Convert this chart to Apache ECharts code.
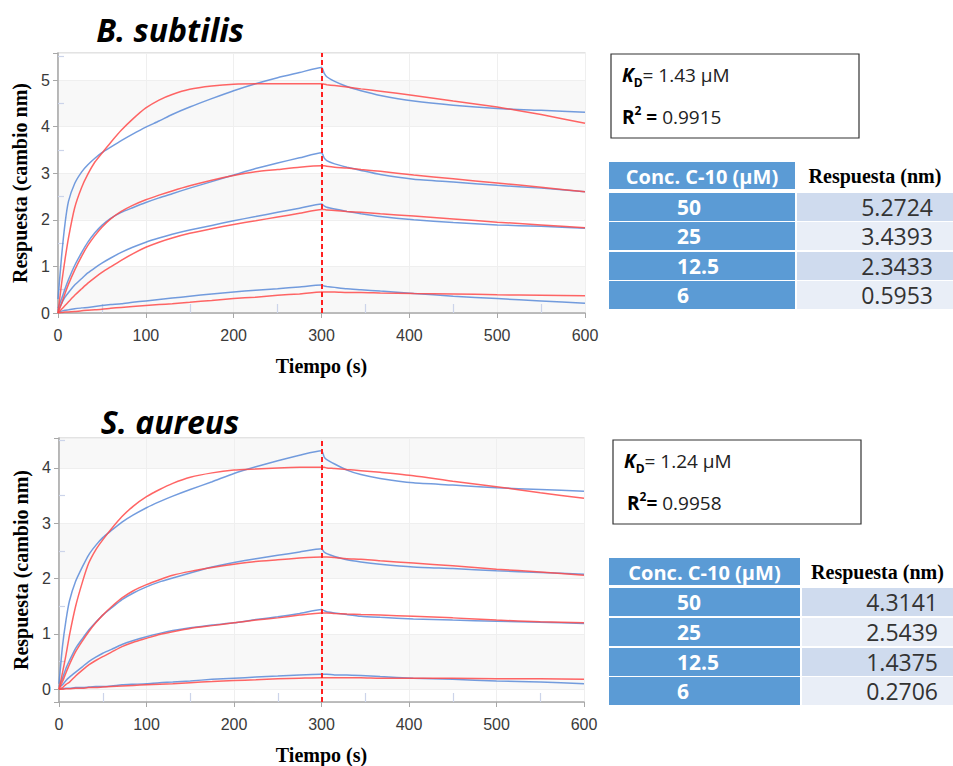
<!DOCTYPE html>
<html>
<head>
<meta charset="utf-8">
<script src="https://cdn.jsdelivr.net/npm/echarts@6/dist/echarts.min.js"></script>
<style>
html,body{margin:0;padding:0;background:#fff;}
#main{width:953px;height:766px;}
</style>
</head>
<body>
<div id="main"></div>
<script>
// time points (s)
const T = [0,4,8,12,19,27,34,42,50,60,72,85,100,115,130,150,175,200,225,250,275,300,303,306,315,329,345,367,405,450,500,550,600];

// B. subtilis – measured (blue)
const bsBlue50 = [0.3,1.2,1.92,2.4,2.78,3.03,3.18,3.32,3.44,3.56,3.7,3.84,3.99,4.12,4.26,4.42,4.6,4.77,4.92,5.05,5.16,5.27,5.15,5.07,4.97,4.86,4.77,4.67,4.55,4.46,4.39,4.35,4.31];
const bsBlue25 = [0.1,0.3,0.52,0.72,1.02,1.3,1.52,1.72,1.88,2.03,2.16,2.26,2.37,2.47,2.56,2.68,2.82,2.96,3.1,3.22,3.33,3.44,3.33,3.27,3.2,3.13,3.06,2.97,2.87,2.81,2.74,2.68,2.6];
const bsBlue12 = [0.05,0.2,0.34,0.44,0.6,0.74,0.86,0.97,1.07,1.18,1.3,1.41,1.52,1.61,1.69,1.78,1.88,1.98,2.07,2.16,2.25,2.34,2.3,2.27,2.23,2.18,2.13,2.07,2.0,1.94,1.89,1.86,1.82];
const bsBlue6  = [0.02,0.04,0.06,0.07,0.09,0.11,0.12,0.14,0.16,0.18,0.2,0.23,0.26,0.29,0.32,0.36,0.41,0.45,0.49,0.52,0.56,0.6,0.58,0.57,0.55,0.52,0.5,0.47,0.42,0.36,0.31,0.26,0.21];
// B. subtilis – fit (red)
const bsRed50 = [0,0.62,1.15,1.62,2.26,2.7,2.98,3.24,3.43,3.66,3.92,4.16,4.4,4.57,4.69,4.8,4.87,4.91,4.92,4.92,4.92,4.92,4.91,4.9,4.88,4.85,4.81,4.76,4.67,4.55,4.42,4.26,4.07];
const bsRed25 = [0,0.2,0.42,0.62,0.92,1.22,1.45,1.66,1.84,2.02,2.18,2.31,2.43,2.53,2.62,2.73,2.85,2.95,3.03,3.08,3.13,3.16,3.16,3.15,3.13,3.11,3.08,3.04,2.96,2.88,2.79,2.7,2.6];
const bsRed12 = [0,0.08,0.16,0.24,0.38,0.52,0.64,0.76,0.87,0.99,1.13,1.27,1.41,1.52,1.61,1.71,1.81,1.9,1.98,2.06,2.14,2.22,2.22,2.21,2.2,2.18,2.16,2.13,2.08,2.02,1.95,1.89,1.83];
const bsRed6  = [0,0.01,0.02,0.02,0.03,0.05,0.06,0.07,0.08,0.1,0.12,0.14,0.16,0.18,0.2,0.23,0.27,0.31,0.34,0.38,0.41,0.45,0.45,0.45,0.45,0.44,0.44,0.43,0.42,0.41,0.39,0.38,0.37];

// S. aureus – measured (blue)
const saBlue50 = [0.1,0.78,1.25,1.6,1.95,2.22,2.43,2.6,2.74,2.87,3.02,3.15,3.28,3.39,3.49,3.61,3.75,3.9,4.02,4.13,4.23,4.31,4.2,4.15,4.07,3.96,3.88,3.81,3.73,3.69,3.64,3.61,3.58];
const saBlue25 = [0.05,0.2,0.38,0.52,0.74,0.92,1.07,1.21,1.34,1.47,1.62,1.74,1.85,1.94,2.01,2.1,2.21,2.29,2.36,2.42,2.48,2.54,2.48,2.45,2.4,2.34,2.3,2.26,2.21,2.18,2.14,2.11,2.08];
const saBlue12 = [0.03,0.08,0.16,0.22,0.31,0.41,0.5,0.58,0.65,0.72,0.81,0.88,0.95,1.01,1.06,1.11,1.16,1.2,1.26,1.31,1.37,1.44,1.42,1.4,1.38,1.35,1.32,1.3,1.27,1.25,1.23,1.21,1.19];
const saBlue6  = [0,0.01,0.02,0.02,0.03,0.03,0.04,0.05,0.05,0.06,0.08,0.09,0.1,0.12,0.13,0.15,0.18,0.2,0.22,0.24,0.26,0.27,0.27,0.27,0.26,0.26,0.25,0.23,0.2,0.18,0.15,0.13,0.1];
// S. aureus – fit (red)
const saRed50 = [0,0.3,0.62,0.98,1.5,1.95,2.28,2.52,2.7,2.9,3.12,3.31,3.48,3.61,3.72,3.83,3.91,3.96,3.98,4.0,4.01,4.01,4.01,4.0,3.99,3.97,3.95,3.92,3.86,3.76,3.66,3.55,3.45];
const saRed25 = [0,0.14,0.3,0.45,0.68,0.88,1.04,1.2,1.34,1.49,1.65,1.78,1.89,1.98,2.06,2.13,2.2,2.26,2.31,2.34,2.37,2.39,2.39,2.39,2.38,2.36,2.35,2.32,2.28,2.23,2.17,2.12,2.06];
const saRed12 = [0,0.03,0.09,0.13,0.24,0.35,0.44,0.52,0.59,0.67,0.77,0.85,0.92,0.99,1.04,1.1,1.15,1.2,1.25,1.29,1.34,1.38,1.38,1.38,1.37,1.36,1.35,1.34,1.32,1.29,1.25,1.22,1.2];
const saRed6  = [0,0,0.01,0.01,0.02,0.02,0.03,0.03,0.04,0.05,0.06,0.07,0.08,0.09,0.1,0.12,0.14,0.16,0.17,0.19,0.2,0.21,0.21,0.21,0.21,0.21,0.21,0.2,0.2,0.2,0.19,0.19,0.18];

// tables
const concLabels = ['50','25','12.5','6'];
const bsResp = ['5.2724','3.4393','2.3433','0.5953'];
const saResp = ['4.3141','2.5439','1.4375','0.2706'];
const titles = ['B. subtilis','S. aureus'];
const kdVals = ['1.43 µM','1.24 µM'];
const r2Vals = ['0.9915','0.9958'];
const xTicks = [0,100,200,300,400,500,600];

const BLUE = '#5b8bd8', RED = '#ff4a4a';
const pairs = v => T.map((t,i)=>[t,v[i]]);

function lineSeries(vals, color, gi, mark){
  const s = {
    type:'line', xAxisIndex:gi, yAxisIndex:gi, data:pairs(vals),
    showSymbol:false, symbol:'none', smooth:0.2,
    lineStyle:{color:color, width:1.5, opacity:0.85},
    silent:true, z:3
  };
  if(mark){
    s.markLine = {silent:true, symbol:['none','none'], label:{show:false},
      lineStyle:{color:'#ff2020', type:[5,3], width:2, opacity:1},
      data:[{xAxis:300}]};
  }
  return s;
}

function xAxisCfg(gi){
  return {
    type:'value', gridIndex:gi, min:xTicks[0], max:xTicks[xTicks.length-1], interval:100,
    name:'Tiempo (s)', nameLocation:'middle', nameGap:43,
    nameTextStyle:{fontFamily:'Liberation Serif', fontWeight:'bold', fontSize:20, color:'#000'},
    axisLine:{onZero:false, lineStyle:{color:'#a8a8a8', width:1.5}},
    axisTick:{show:true, length:5, lineStyle:{color:'#a8a8a8'}},
    minorTick:{show:true, splitNumber:2, length:-9, lineStyle:{color:'#ccd4ea', width:1.2}},
    axisLabel:{fontFamily:'Liberation Sans', fontSize:16, color:'#3a3a3a', margin:14},
    splitLine:{show:true, lineStyle:{color:'#efefef', width:1}}
  };
}
function yAxisCfg(gi, min, max, areaColors){
  return {
    type:'value', gridIndex:gi, min:min, max:max, minInterval:1, maxInterval:1,
    name:'Respuesta (cambio nm)', nameLocation:'middle', nameGap:27,
    nameTextStyle:{fontFamily:'Liberation Serif', fontWeight:'bold', fontSize:20, color:'#000'},
    axisLine:{show:true, lineStyle:{color:'#a8a8a8', width:1.5}},
    axisTick:{show:true, length:5, lineStyle:{color:'#a8a8a8'}},
    minorTick:{show:true, splitNumber:2, length:-6, lineStyle:{color:'#ccd4ea', width:1.2}},
    axisLabel:{fontFamily:'Liberation Sans', fontSize:16, color:'#3a3a3a', margin:8,
      formatter:v => (Math.abs(v-Math.round(v))<1e-9 ? String(Math.round(v)) : '')},
    splitLine:{show:true, lineStyle:{color:'#efefef', width:1}},
    splitArea:{show:true, areaStyle:{color:areaColors}}
  };
}

function panel(i, o){
  const els = [];
  els.push({type:'text', x:170, y:o.titleY, style:{text:titles[i], fontFamily:'Open Sans', fontWeight:'bold', fontStyle:'italic', fontSize:32, fill:'#000', align:'center', verticalAlign:'middle'}});
  els.push({type:'rect', shape:{x:o.bx, y:o.by, width:248, height:84}, style:{fill:'#fff', stroke:'#333', lineWidth:1.2}});
  els.push({type:'text', x:o.bx+11, y:o.by+21, style:{
    text:'{k|K}{d|D}{n|= '+kdVals[i]+'}', verticalAlign:'middle', align:'left',
    rich:{k:{fontFamily:'Open Sans', fontWeight:'bold', fontStyle:'italic', fontSize:19, lineHeight:26, fill:'#000'},
          d:{fontFamily:'Open Sans', fontWeight:'bold', fontSize:12, lineHeight:12, verticalAlign:'bottom', fill:'#000'},
          n:{fontFamily:'Open Sans', fontSize:19, lineHeight:26, fill:'#222'}}}});
  els.push({type:'text', x:o.bx+11+o.r2dx, y:o.by+63, style:{
    text:'{r|R}{s|2}{e|'+o.eq+'}{n|'+r2Vals[i]+'}', verticalAlign:'middle', align:'left',
    rich:{r:{fontFamily:'Open Sans', fontWeight:'bold', fontSize:19, lineHeight:26, fill:'#000'},
          s:{fontFamily:'Open Sans', fontWeight:'bold', fontSize:12, lineHeight:12, verticalAlign:'top', fill:'#000'},
          e:{fontFamily:'Open Sans', fontWeight:'bold', fontSize:19, lineHeight:26, fill:'#000'},
          n:{fontFamily:'Open Sans', fontSize:19, lineHeight:26, fill:'#222'}}}});
  els.push({type:'rect', shape:{x:609, y:o.hy, width:o.lw, height:27}, style:{fill:'#5b9bd5'}});
  els.push({type:'text', x:609+o.lw/2, y:o.hy+14, style:{text:'Conc. C-10 (µM)', fontFamily:'Open Sans', fontWeight:'bold', fontSize:20, fill:'#fff', align:'center', verticalAlign:'middle'}});
  els.push({type:'text', x:o.rx+(953-o.rx)/2, y:o.hy+14, style:{text:'Respuesta (nm)', fontFamily:'Liberation Serif', fontWeight:'bold', fontSize:20, fill:'#000', align:'center', verticalAlign:'middle'}});
  const resp = i===0 ? bsResp : saResp;
  for(let r=0;r<4;r++){
    const y0 = o.rowY[r];
    els.push({type:'rect', shape:{x:609, y:y0, width:o.lw, height:28}, style:{fill:'#5b9bd5'}});
    els.push({type:'rect', shape:{x:o.rx, y:y0, width:953-o.rx, height:28}, style:{fill: r%2===0 ? '#cfdbee' : '#e9eef7'}});
    els.push({type:'text', x:677, y:y0+14, style:{text:concLabels[r], fontFamily:'Open Sans', fontWeight:'bold', fontSize:21, fill:'#fff', align:'left', verticalAlign:'middle'}});
    els.push({type:'text', x:o.numR, y:y0+14, style:{text:resp[r], fontFamily:'Open Sans', fontSize:23, fill:'#333', align:'right', verticalAlign:'middle'}});
  }
  return els;
}

const chart = echarts.init(document.getElementById('main'), null, {renderer:'svg'});
chart.setOption({
  animation:false,
  backgroundColor:'#fff',
  grid:[
    {left:58, top:53, width:527, height:260, show:true, borderColor:'#c8c8c8', borderWidth:1.2, backgroundColor:'transparent'},
    {left:59, top:438, width:525, height:264, show:true, borderColor:'#c8c8c8', borderWidth:1.2, backgroundColor:'transparent'}
  ],
  xAxis:[xAxisCfg(0), xAxisCfg(1)],
  yAxis:[yAxisCfg(0, 0, 5.58, ['#f8f8f8','#ffffff']), yAxisCfg(1, -0.23, 4.54, ['#ffffff','#f8f8f8'])],
  series:[
    lineSeries(bsBlue50, BLUE, 0, true), lineSeries(bsBlue25, BLUE, 0), lineSeries(bsBlue12, BLUE, 0), lineSeries(bsBlue6, BLUE, 0),
    lineSeries(bsRed50, RED, 0), lineSeries(bsRed25, RED, 0), lineSeries(bsRed12, RED, 0), lineSeries(bsRed6, RED, 0),
    lineSeries(saBlue50, BLUE, 1, true), lineSeries(saBlue25, BLUE, 1), lineSeries(saBlue12, BLUE, 1), lineSeries(saBlue6, BLUE, 1),
    lineSeries(saRed50, RED, 1), lineSeries(saRed25, RED, 1), lineSeries(saRed12, RED, 1), lineSeries(saRed6, RED, 1)
  ],
  graphic:[].concat(
    panel(0, {titleY:29, bx:611, by:54, r2dx:0, eq:' = ', hy:162, lw:186, rx:797, rowY:[193,222,252,281], numR:933}),
    panel(1, {titleY:421, bx:613, by:440, r2dx:3, eq:'= ', hy:558, lw:191, rx:802, rowY:[588,618,648,677], numR:938})
  )
});
</script>
</body>
</html>
